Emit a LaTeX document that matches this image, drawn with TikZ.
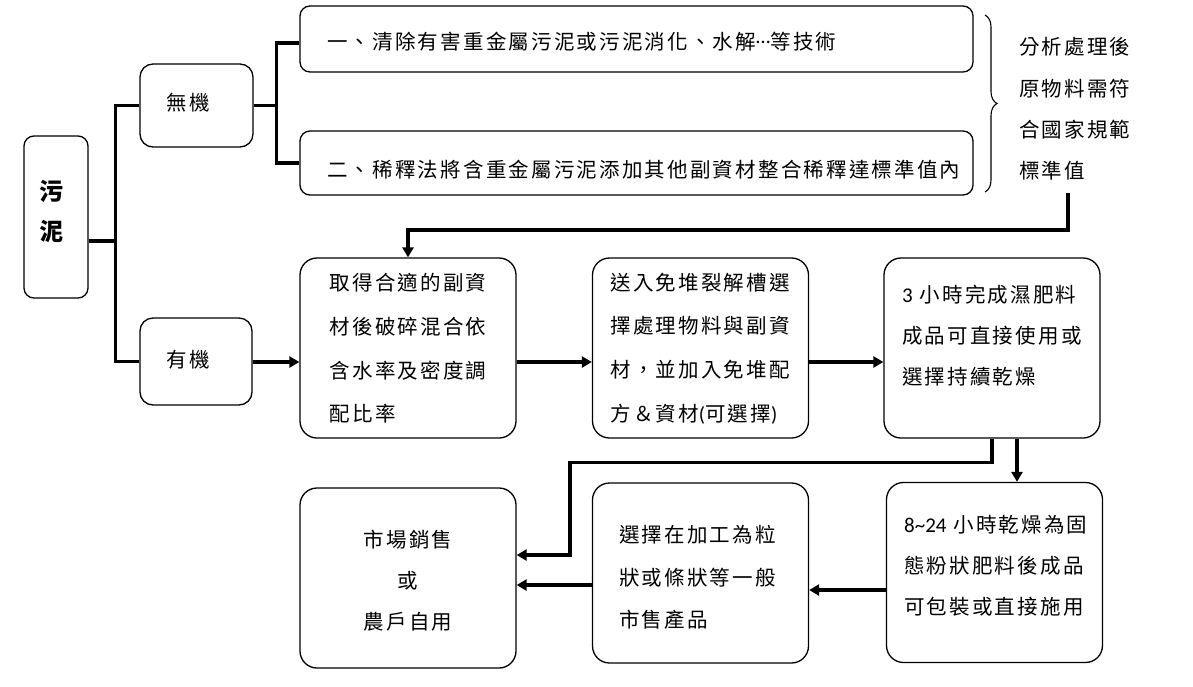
\documentclass[tikz,border=0pt]{standalone}
\usepackage{fontspec}
\newfontfamily\cjk{Noto Sans CJK TC}[LetterSpace=10.7]
\newfontfamily\lat{Carlito}
\usetikzlibrary{arrows.meta,decorations.pathreplacing}
\begin{document}
\begin{tikzpicture}[x=1pt,y=-1pt,
  box/.style={draw, line width=1.3pt, rounded corners=17pt, inner sep=0pt},
  bigbox/.style={box, minimum width=216pt, minimum height=180pt},
  txt/.style={inner sep=0pt, align=left, font=\cjk\fontsize{20.5}{43}\selectfont},
  conn/.style={line width=3.6pt},
  arrow/.style={conn, -{Triangle[length=10pt,width=11pt]}},
  bracestyle/.style={line width=1.1pt, decorate, decoration={brace, amplitude=12pt}}
]
\useasboundingbox (0,0) rectangle (1193,686);
\fill[white] (0,0) rectangle (1193,686);

% boxes
\node[box, rounded corners=10pt, minimum width=64pt, minimum height=162pt] (W) at (56,217) {};
\node[box, rounded corners=13pt, minimum width=113pt, minimum height=83pt] (Wu) at (196.5,105.5) {};
\node[box, rounded corners=13pt, minimum width=112pt, minimum height=87pt] (Yu) at (196,361.5) {};
\node[box, rounded corners=10pt, minimum width=673pt, minimum height=66pt] (B1) at (636.5,39) {};
\node[box, rounded corners=10pt, minimum width=673pt, minimum height=64pt] (B2) at (636.5,163) {};
\node[bigbox] (A) at (408,348) {};
\node[bigbox] (B) at (700.5,348) {};
\node[bigbox] (C) at (992,348) {};
\node[bigbox] (D) at (408,578) {};
\node[bigbox] (E) at (700.5,573) {};
\node[bigbox] (F) at (994.5,572.5) {};

% texts
\node[txt, align=center, font=\cjk\bfseries\fontsize{24}{40}\selectfont] (Wt) at (51,211) {污\\泥};
\node[txt] (Wut) at (188,103) {無機};
\node[txt] (Yut) at (188,360) {有機};
\node[txt, anchor=west] (B1t) at (327,42) {一、清除有害重金屬污泥或污泥消化、水解{\lat\fontsize{20.5}{43}\selectfont\raisebox{0.3em}{…}}等技術};
\node[txt, anchor=west] (B2t) at (327,170) {二、稀釋法將含重金屬污泥添加其他副資材整合稀釋達標準值內};
\node[txt, anchor=west, font=\cjk\fontsize{20.5}{41.3}\selectfont] (R) at (1019,109) {分析處理後\\原物料需符\\合國家規範\\標準值};
\node[txt, font=\cjk\fontsize{20.5}{43.7}\selectfont] (At) at (408,348.5) {取得合適的副資\\材後破碎混合依\\含水率及密度調\\配比率};
\node[txt, font=\cjk\fontsize{20.5}{43.7}\selectfont] (Bt) at (700,348.5) {送入免堆裂解槽選\\擇處理物料與副資\\材，並加入免堆配\\方＆資材{\lat(}可選擇{\lat)}};
\node[txt, anchor=west, font=\cjk\fontsize{20.5}{41}\selectfont] (Ct) at (902,336) {{\lat\fontsize{21}{41}\selectfont 3} 小時完成濕肥料\\成品可直接使用或\\選擇持續乾燥};
\node[txt, align=center, font=\cjk\fontsize{20.5}{41}\selectfont] (Dt) at (408,581) {市場銷售\\或\\農戶自用};
\node[txt, anchor=west, font=\cjk\fontsize{20.5}{42.5}\selectfont] (Et) at (619,577.5) {選擇在加工為粒\\狀或條狀等一般\\市售產品};
\node[txt, anchor=west, font=\cjk\fontsize{20.5}{41}\selectfont] (Ft) at (904,566) {{\lat\fontsize{21}{41}\selectfont 8\textasciitilde24} 小時乾燥為固\\態粉狀肥料後成品\\可包裝或直接施用};

% tree connectors
\coordinate (j1) at ([xshift=27pt,yshift=-24pt]W.east);
\draw[conn] ([yshift=-24pt]W.east) -- (j1);
\draw[conn] (Wu.west) -| (j1) |- (Yu.west);
\coordinate (j2) at ([xshift=23pt]Wu.east);
\draw[conn] (Wu.east) -- (j2);
\draw[conn] ([yshift=-4pt]B1.west) -| (j2) |- (B2.west);

% brace
\draw[bracestyle] (985,15) -- (985,192);

% flow arrows
\coordinate (rs) at (1068,193);
\draw[arrow] (rs) -- ++(0,37) -| (A.north);
\draw[arrow] ([yshift=-14pt]Yu.east |- A.west) -- ([yshift=-14pt]A.west);
\draw[arrow] ([yshift=-14pt]A.east) -- ([yshift=-14pt]B.west);
\draw[arrow] ([yshift=-14pt]B.east) -- ([yshift=-14pt]C.west);
\draw[arrow] (C.south) -- ++(0,24) -| (570,520) |- ([yshift=23pt]D.east);
\draw[arrow] ([xshift=25pt]C.south) -- ([xshift=25pt]C.south |- F.north);
\draw[arrow] ([yshift=-17.5pt]F.west) -- ([yshift=-17.5pt]F.west -| E.east);
\draw[arrow] ([yshift=-12pt]E.west) -- ([yshift=-12pt]E.west -| D.east);
\end{tikzpicture}
\end{document}
